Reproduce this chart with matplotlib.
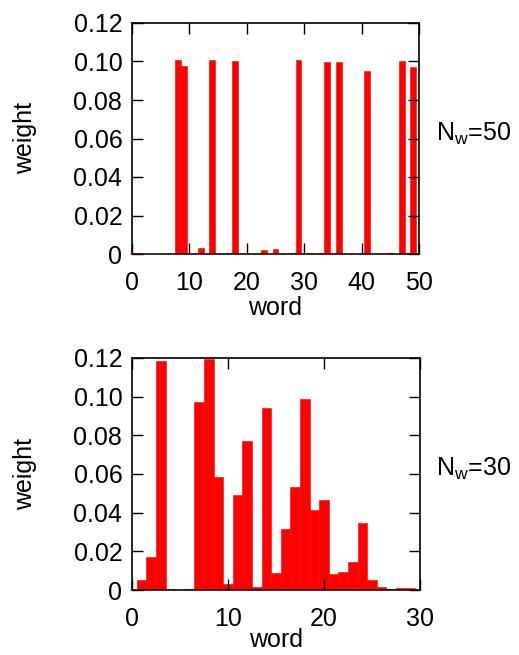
import numpy as np
import matplotlib
matplotlib.use("Agg")
import matplotlib.pyplot as plt

plt.rcParams['font.family'] = ['Liberation Sans', 'DejaVu Sans']
plt.rcParams['mathtext.fontset'] = 'custom'
plt.rcParams['mathtext.rm'] = 'Liberation Sans'
plt.rcParams['mathtext.it'] = 'Liberation Sans'

# word weights, N_w = 50 (words 0..49, nonzero entries only)
words_50 = np.arange(50)
nz_50 = {8: 0.1007, 9: 0.0976, 12: 0.0029, 14: 0.1007, 17: 0.0007,
         18: 0.1005, 23: 0.0019, 25: 0.0024, 28: 0.0005, 29: 0.1007,
         31: 0.0007, 33: 0.0007, 34: 0.0998, 36: 0.0995, 41: 0.0950,
         45: 0.0006, 47: 0.1005, 48: 0.0005, 49: 0.0969}
weights_50 = [nz_50.get(w, 0.0) for w in words_50]

# word weights, N_w = 30
words_30 = np.arange(30)
weights_30 = [0.0, 0.0054, 0.0169, 0.1187, 0.0007, 0.0002, 0.0007, 0.0970,
              0.1195, 0.0585, 0.0033, 0.0490, 0.0772, 0.0017, 0.0943, 0.0088,
              0.0313, 0.0532, 0.0990, 0.0415, 0.0466, 0.0083, 0.0095, 0.0147,
              0.0347, 0.0054, 0.0016, 0.0003, 0.0009, 0.0010]

yticks = [0, 0.02, 0.04, 0.06, 0.08, 0.10, 0.12]
ytick_labels = ['0', '0.02', '0.04', '0.06', '0.08', '0.10', '0.12']

FS = 18
W, H = 519, 655
fig = plt.figure(figsize=(W / 100, H / 100), dpi=100)


def panel(rect, x, y, xmax, xticks, label, xlab_y, text_y):
    ax = fig.add_axes(rect)
    ax.bar(x, y, width=1.0, color='#ff0000', edgecolor='#ff0000', linewidth=0.4)
    ax.set_xlim(0, xmax)
    ax.set_ylim(0, 0.12)
    ax.set_xticks(xticks)
    ax.set_yticks(yticks)
    ax.set_yticklabels(ytick_labels)
    ax.tick_params(direction='in', length=8, width=1.0, labelsize=FS,
                   top=True, right=True)
    ax.tick_params(axis='x', pad=12)
    ax.tick_params(axis='y', pad=7)
    for s in ax.spines.values():
        s.set_linewidth(1.2)
    ax.spines['bottom'].set_color('#2a0000')
    ax.set_xlabel('word', fontsize=FS)
    ax.xaxis.set_label_coords(0.5, xlab_y)
    ax.xaxis.label.set_va('center')
    ax.set_ylabel('weight', fontsize=FS)
    ax.yaxis.set_label_coords(-0.373, 0.5)
    ax.yaxis.label.set_va('center')
    fig.text(436 / W, 1 - text_y / H, label, fontsize=FS, ha='left', va='center')
    return ax


panel([132 / W, 1 - 254 / H, 287 / W, 231 / H], words_50, weights_50, 50,
      [0, 10, 20, 30, 40, 50], r'N$_\mathrm{w}$=50', -0.234, 134)
panel([132 / W, 1 - 590 / H, 288 / W, 232 / H], words_30, weights_30, 30,
      [0, 10, 20, 30], r'N$_\mathrm{w}$=30', -0.216, 469)

fig.savefig('out.png', dpi=100)
